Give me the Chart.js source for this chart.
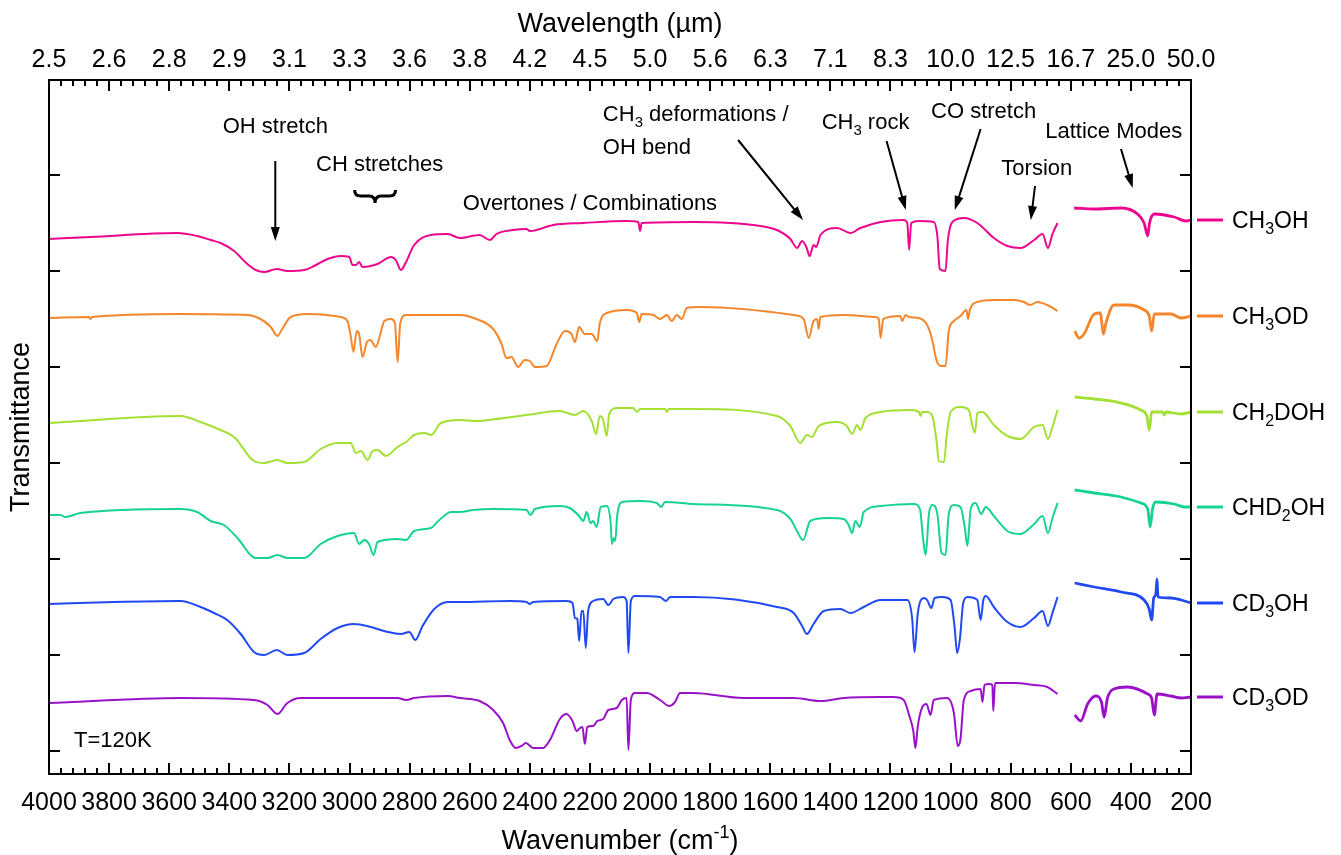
<!DOCTYPE html>
<html>
<head>
<meta charset="utf-8">
<title>Methanol isotopologue IR spectra</title>
<script src="https://cdn.jsdelivr.net/npm/chart.js@4.4.1/dist/chart.umd.min.js"></script>
<style>
  html, body { margin: 0; padding: 0; background: #fff; }
</style>
</head>
<body>
<canvas id="spectraChart" width="1341" height="855"></canvas>
<script>
// Spectra: [wavenumber (cm-1), offset transmittance (a.u.)]
// null marks the break between the mid-IR and far-IR parts
const ch3ohPts = [[4000,512],[3862,514],[3573,518],[3507,515],[3462,511],[3429,508],[3384,500],[3340,487],[3312,481],[3284,479],[3242,482],[3207,480],[3151,481],[3118,485],[3073,492],[3029,495],[3001,494],[2990,486],[2979,486],[2968,489],[2957,484],[2907,487],[2862,494],[2846,491],[2829,481],[2812,489],[2785,506],[2729,516],[2673,517],[2633,513],[2567,516],[2533,511],[2511,517],[2456,521],[2411,522],[2400,520],[2322,526],[2222,528],[2078,530],[2039,529],[2033,520],[2028,528],[1856,529],[1633,525],[1578,521],[1533,512],[1511,503],[1494,510],[1480,504],[1469,495],[1456,506],[1447,504],[1433,516],[1378,523],[1333,518],[1300,523],[1233,529],[1156,531],[1144,528],[1138,501],[1131,528],[1106,530],[1056,529],[1044,515],[1036,482],[1017,480],[1009,511],[994,529],[956,533],[911,528],[856,513],[811,505],[767,503],[722,511],[694,517],[676,503],[661,517],[644,528],[620,null],[589,543],[522,542],[433,543],[378,537],[356,528],[344,515],[338,528],[322,537],[256,534],[217,530],[200,531]];

const ch3odPts = [[4000,433],[3868,434],[3862,432],[3856,434],[3562,437],[3340,436],[3296,432],[3262,424],[3240,415],[3224,422],[3196,434],[3140,437],[3029,434],[3007,430],[2996,415],[2987,399],[2976,420],[2968,417],[2957,394],[2942,409],[2931,411],[2912,404],[2901,413],[2884,430],[2862,432],[2849,428],[2840,389],[2831,428],[2812,436],[2729,436],[2633,436],[2578,432],[2522,422],[2494,407],[2478,393],[2461,394],[2439,384],[2417,391],[2400,390],[2383,384],[2344,385],[2311,407],[2283,420],[2261,417],[2250,409],[2236,424],[2217,417],[2194,417],[2176,410],[2167,428],[2144,438],[2078,441],[2044,438],[2036,429],[2028,437],[1989,436],[1967,432],[1944,436],[1928,430],[1911,436],[1894,432],[1878,443],[1833,444],[1522,436],[1489,432],[1472,413],[1456,430],[1444,432],[1439,422],[1433,434],[1356,436],[1250,434],[1239,432],[1233,413],[1224,432],[1167,435],[1161,430],[1150,436],[1139,434],[1106,433],[1078,426],[1061,411],[1047,391],[1033,385],[1017,385],[1006,420],[989,430],[967,435],[947,441],[942,432],[936,441],[911,449],[856,451],[789,451],[756,449],[736,446],[711,449],[678,446],[644,440],[620,null],[587,420],[572,413],[556,417],[522,437],[502,438],[491,417],[483,428],[456,446],[411,446],[356,441],[339,435],[331,420],[322,437],[267,437],[233,433],[200,435]];

const ch2dohPts = [[4000,328],[3951,329],[3562,335],[3496,329],[3429,321],[3384,314],[3318,290],[3284,288],[3240,291],[3207,288],[3151,289],[3096,302],[3040,308],[2996,308],[2979,298],[2962,300],[2940,291],[2923,300],[2907,301],[2879,295],[2840,304],[2812,309],[2785,316],[2751,318],[2729,316],[2696,328],[2633,331],[2578,330],[2511,332],[2411,336],[2300,340],[2250,336],[2222,340],[2194,330],[2180,317],[2167,335],[2156,331],[2144,315],[2136,337],[2111,343],[2056,343],[2044,339],[2033,342],[1950,342],[1944,339],[1938,342],[1856,342],[1578,335],[1533,325],[1500,308],[1478,316],[1461,314],[1439,325],[1378,329],[1345,325],[1328,317],[1311,326],[1300,321],[1283,333],[1233,339],[1133,341],[1105,339],[1100,335],[1095,339],[1078,339],[1061,335],[1047,311],[1039,290],[1022,289],[1013,315],[1000,339],[967,344],[939,341],[928,326],[919,318],[911,338],[894,339],[856,326],[811,315],[767,312],[722,324],[694,326],[676,312],[661,324],[644,341],[620,null],[587,354],[522,352],[433,348],[367,341],[347,335],[339,321],[331,339],[295,339],[289,336],[283,339],[233,337],[200,339]];

const chd2ohPts = [[4000,236],[3962,236],[3946,234],[3896,238],[3562,242],[3507,239],[3462,230],[3418,226],[3373,213],[3312,193],[3273,193],[3240,196],[3207,193],[3151,193],[3096,207],[3040,215],[2985,218],[2968,207],[2951,211],[2935,207],[2920,196],[2907,209],[2840,212],[2812,211],[2785,220],[2729,223],[2701,231],[2662,239],[2633,239],[2589,241],[2522,242],[2411,241],[2398,236],[2383,242],[2300,245],[2267,243],[2239,236],[2222,230],[2211,239],[2198,228],[2189,230],[2178,224],[2164,244],[2144,245],[2131,228],[2127,207],[2120,213],[2116,210],[2109,236],[2094,249],[2033,250],[1978,248],[1963,244],[1950,249],[1856,247],[1578,241],[1533,232],[1511,220],[1491,211],[1467,230],[1411,233],[1356,232],[1339,226],[1328,218],[1317,230],[1302,224],[1289,239],[1233,245],[1122,247],[1102,242],[1091,211],[1083,196],[1072,237],[1061,246],[1044,237],[1030,198],[1017,196],[1006,237],[989,246],[967,244],[953,224],[944,205],[933,242],[917,248],[898,237],[883,244],[856,235],[811,220],[767,217],[722,227],[694,235],[676,218],[661,233],[644,248],[620,null],[587,261],[522,258],[433,254],[367,248],[344,242],[336,224],[328,242],[317,249],[256,247],[222,244],[200,244]];

const cd3ohPts = [[4000,147],[3784,149],[3562,150],[3496,144],[3451,138],[3407,131],[3362,117],[3318,99],[3284,96],[3242,101],[3207,96],[3151,98],[3096,112],[3040,123],[2985,127],[2929,124],[2873,119],[2829,117],[2801,119],[2781,111],[2757,125],[2718,142],[2673,149],[2633,149],[2467,150],[2411,149],[2400,147],[2389,149],[2278,150],[2258,148],[2250,133],[2242,132],[2236,110],[2228,140],[2222,140],[2214,103],[2206,140],[2189,150],[2156,152],[2139,146],[2122,152],[2089,154],[2078,150],[2072,98],[2064,150],[2050,155],[1967,154],[1947,150],[1933,154],[1856,154],[1578,144],[1522,138],[1494,125],[1478,117],[1456,127],[1422,140],[1367,142],[1333,138],[1289,144],[1233,151],[1144,151],[1128,133],[1120,99],[1109,138],[1089,153],[1078,151],[1064,143],[1053,153],[1028,154],[1000,151],[987,125],[978,98],[969,112],[958,148],[944,154],[911,151],[900,131],[891,151],[883,155],[856,144],[811,129],[767,124],[722,133],[694,140],[676,125],[661,138],[644,154],[620,null],[587,168],[522,164],[433,159],[356,151],[339,142],[331,131],[324,153],[317,157],[313,172],[310,154],[267,153],[233,151],[200,148]];

const cd3odPts = [[4000,48],[3562,53],[3318,51],[3273,46],[3240,37],[3207,48],[3162,53],[3007,53],[2840,53],[2812,51],[2785,53],[2673,55],[2633,53],[2567,50],[2522,41],[2489,28],[2467,11],[2447,3],[2428,5],[2413,8],[2389,3],[2356,3],[2333,11],[2300,32],[2278,37],[2258,30],[2244,20],[2233,23],[2225,24],[2217,7],[2209,24],[2189,25],[2176,30],[2156,32],[2139,41],[2111,43],[2094,51],[2078,53],[2072,1],[2064,51],[2050,58],[2011,58],[1967,51],[1936,45],[1917,49],[1900,58],[1856,58],[1689,53],[1522,53],[1433,50],[1356,53],[1233,54],[1189,54],[1156,51],[1136,34],[1124,20],[1117,3],[1109,25],[1094,44],[1080,47],[1067,36],[1056,51],[1011,53],[989,38],[976,5],[967,12],[956,51],[933,60],[900,62],[894,49],[887,66],[872,67],[861,66],[858,40],[852,68],[789,68],[722,66],[678,64],[644,57],[620,null],[587,36],[567,30],[544,47],[517,55],[498,49],[489,34],[478,53],[456,62],[411,64],[344,57],[331,53],[322,36],[313,57],[267,55],[233,53],[200,54]];

const seriesNames = ['CH3OH', 'CH3OD', 'CH2DOH', 'CHD2OH', 'CD3OH', 'CD3OD'];
const seriesPts = [ch3ohPts, ch3odPts, ch2dohPts, chd2ohPts, cd3ohPts, cd3odPts];
const seriesColors = ['#ec068d', '#f5862c', '#a3e033', '#17d391', '#2149f3', '#9a12c8'];

// unlabeled transmittance ticks (a.u.)
const yTickValues = [0, 96, 192, 288, 384, 480, 576];

const FONT = "'Liberation Sans', Arial, sans-serif";

// band labels: text, wavenumber, level, alignment
const notes = [
    { text: 'OH stretch', x: 3247, y: 618, align: 'center' },
    { text: 'CH stretches', x: 2900, y: 580, align: 'center' },
    { text: 'Overtones / Combinations', x: 2200, y: 541, align: 'center' },
    { text: 'CH_3 deformations /', x: 2157, y: 630, align: 'left' },
    { text: 'OH bend', x: 2157, y: 597, align: 'left' },
    { text: 'CH_3 rock', x: 1283, y: 622, align: 'center' },
    { text: 'CO stretch', x: 890, y: 633, align: 'center' },
    { text: 'Torsion', x: 713, y: 576, align: 'center' },
    { text: 'Lattice Modes', x: 457, y: 613, align: 'center' },
    { text: 'T=120K', x: 3917, y: 4, align: 'left' }
];
const arrows = [
    [3247, 590, 3247, 510],
    [1707, 611, 1491, 531],
    [1213, 610, 1149, 541],
    [900, 622, 986, 541],
    [719, 565, 733, 531],
    [433, 602, 394, 563]
];

// draws text where "_3" is a subscript and "^-1" a superscript
function richText(ctx, text, x, y, size, align) {
    const tokens = text.match(/_\d|\^-?\d+|[^_^]+/g);
    const small = Math.round(size * 0.68);
    const pieces = tokens.map(t => {
        if (t[0] === '_') return { s: t.slice(1), f: small, dy: size * 0.25 };
        if (t[0] === '^') return { s: t.slice(1), f: small, dy: -size * 0.4 };
        return { s: t, f: size, dy: 0 };
    });
    let total = 0;
    pieces.forEach(p => {
        ctx.font = p.f + 'px ' + FONT;
        p.w = ctx.measureText(p.s).width;
        total += p.w;
    });
    let cx = align === 'center' ? x - total / 2 : (align === 'right' ? x - total : x);
    ctx.textAlign = 'left';
    ctx.textBaseline = 'alphabetic';
    pieces.forEach(p => {
        ctx.font = p.f + 'px ' + FONT;
        ctx.fillText(p.s, cx, y + p.dy);
        cx += p.w;
    });
}

function arrow(ctx, x1, y1, x2, y2) {
    const ang = Math.atan2(y2 - y1, x2 - x1);
    const len = 14, half = 4.5;
    ctx.beginPath();
    ctx.moveTo(x1, y1);
    ctx.lineTo(x2 - Math.cos(ang) * len * 0.8, y2 - Math.sin(ang) * len * 0.8);
    ctx.stroke();
    ctx.beginPath();
    ctx.moveTo(x2, y2);
    ctx.lineTo(x2 - Math.cos(ang) * len - Math.sin(ang) * half, y2 - Math.sin(ang) * len + Math.cos(ang) * half);
    ctx.lineTo(x2 - Math.cos(ang) * len + Math.sin(ang) * half, y2 - Math.sin(ang) * len - Math.cos(ang) * half);
    ctx.closePath();
    ctx.fill();
}

const decorations = {
    id: 'decorations',
    afterDatasetsDraw(chart) {
        const { ctx, chartArea: a, scales: { x, y } } = chart;
        ctx.save();
        ctx.strokeStyle = '#000';
        ctx.fillStyle = '#000';
        ctx.lineWidth = 2;
        ctx.lineCap = 'butt';

        // frame
        ctx.strokeRect(a.left, a.top, a.right - a.left, a.bottom - a.top);

        // inward ticks, top and bottom
        ctx.beginPath();
        for (let v = 200; v <= 4000; v += 40) {
            const px = Math.round(x.getPixelForValue(v));
            const len = v % 200 === 0 ? 11 : 6;
            ctx.moveTo(px, a.bottom); ctx.lineTo(px, a.bottom - len);
            ctx.moveTo(px, a.top); ctx.lineTo(px, a.top + len);
        }
        // inward ticks, left and right
        yTickValues.forEach(v => {
            const py = Math.round(y.getPixelForValue(v));
            ctx.moveTo(a.left, py); ctx.lineTo(a.left + 11, py);
            ctx.moveTo(a.right, py); ctx.lineTo(a.right - 11, py);
        });
        ctx.stroke();

        // axis titles
        ctx.fillStyle = '#000';
        const midX = (a.left + a.right) / 2;
        richText(ctx, 'Wavelength (\u00b5m)', midX, 32, 27, 'center');
        richText(ctx, 'Wavenumber (cm^-1)', midX, 849, 27, 'center');
        ctx.save();
        ctx.translate(22, (a.top + a.bottom) / 2);
        ctx.rotate(-Math.PI / 2);
        ctx.font = '27px ' + FONT;
        ctx.textAlign = 'center';
        ctx.textBaseline = 'middle';
        ctx.fillText('Transmittance', 0, 0);
        ctx.restore();

        // band annotations
        notes.forEach(n => {
            richText(ctx, n.text, x.getPixelForValue(n.x), y.getPixelForValue(n.y), 22, n.align);
        });
        ctx.lineWidth = 2;
        arrows.forEach(([x1, y1, x2, y2]) => {
            arrow(ctx, x.getPixelForValue(x1), y.getPixelForValue(y1), x.getPixelForValue(x2), y.getPixelForValue(y2));
        });

        // brace over the CH stretches
        const bx0 = x.getPixelForValue(2983), bx1 = x.getPixelForValue(2847);
        const bc = (bx0 + bx1) / 2;
        const bTop = y.getPixelForValue(561), bMid = y.getPixelForValue(555), bBot = y.getPixelForValue(548);
        const r = 6;
        ctx.lineWidth = 3;
        ctx.beginPath();
        ctx.moveTo(bx0, bTop);
        ctx.quadraticCurveTo(bx0, bMid, bx0 + r, bMid);
        ctx.lineTo(bc - r, bMid);
        ctx.quadraticCurveTo(bc, bMid, bc, bBot);
        ctx.quadraticCurveTo(bc, bMid, bc + r, bMid);
        ctx.lineTo(bx1 - r, bMid);
        ctx.quadraticCurveTo(bx1, bMid, bx1, bTop);
        ctx.stroke();

        // legend at the end of each trace
        chart.data.datasets.forEach((ds, i) => {
            const last = ds.data[ds.data.length - 1];
            const py = y.getPixelForValue(last.y);
            ctx.strokeStyle = ds.borderColor;
            ctx.lineWidth = 3;
            ctx.beginPath();
            ctx.moveTo(a.right + 6, py);
            ctx.lineTo(a.right + 32, py);
            ctx.stroke();
            ctx.fillStyle = '#000';
            richText(ctx, seriesNames[i].replace(/(\d)/g, '_$1'), a.right + 41, py + 8, 23, 'left');
        });
        ctx.restore();
    }
};

const ctx = document.getElementById('spectraChart').getContext('2d');
new Chart(ctx, {
    type: 'line',
    data: {
        datasets: seriesNames.map((name, i) => ({
            label: name,
            data: seriesPts[i].map(([wn, t]) => ({ x: wn, y: t })),
            borderColor: seriesColors[i],
            backgroundColor: seriesColors[i],
            borderWidth: 2,
            // far-IR part is noisier, so it reads as a heavier line
            segment: { borderWidth: c => (c.p0.parsed.x < 610 ? 2.8 : 2) },
            pointRadius: 0,
            cubicInterpolationMode: 'monotone',
            spanGaps: false,
            xAxisID: 'x',
            yAxisID: 'y'
        }))
    },
    options: {
        responsive: false,
        devicePixelRatio: 1,
        animation: false,
        layout: { padding: 0 },
        plugins: { legend: { display: false }, tooltip: { enabled: false } },
        scales: {
            x: {
                type: 'linear',
                position: 'bottom',
                min: 200,
                max: 4000,
                reverse: true,
                grid: { display: false, drawTicks: false },
                border: { display: false },
                ticks: {
                    stepSize: 200,
                    autoSkip: false,
                    maxRotation: 0,
                    padding: 14,
                    color: '#000',
                    font: { family: FONT, size: 25 },
                    callback: v => String(v)
                },
                afterFit: s => { s.height = 81; }
            },
            x2: {
                type: 'linear',
                position: 'top',
                min: 200,
                max: 4000,
                reverse: true,
                grid: { display: false, drawTicks: false },
                border: { display: false },
                ticks: {
                    stepSize: 200,
                    autoSkip: false,
                    maxRotation: 0,
                    padding: 5,
                    color: '#000',
                    font: { family: FONT, size: 25 },
                    callback: v => (10000 / v).toFixed(1)
                },
                afterFit: s => { s.height = 80; }
            },
            y: {
                type: 'linear',
                position: 'left',
                min: -23,
                max: 671,
                grid: { display: false, drawTicks: false },
                border: { display: false },
                ticks: { display: false },
                afterBuildTicks: s => { s.ticks = yTickValues.map(v => ({ value: v })); },
                afterFit: s => { s.width = 49; }
            },
            y2: {
                type: 'linear',
                position: 'right',
                min: -23,
                max: 671,
                grid: { display: false, drawTicks: false },
                border: { display: false },
                ticks: { display: false },
                afterFit: s => { s.width = 150; }
            }
        }
    },
    plugins: [decorations]
});
</script>
</body>
</html>
